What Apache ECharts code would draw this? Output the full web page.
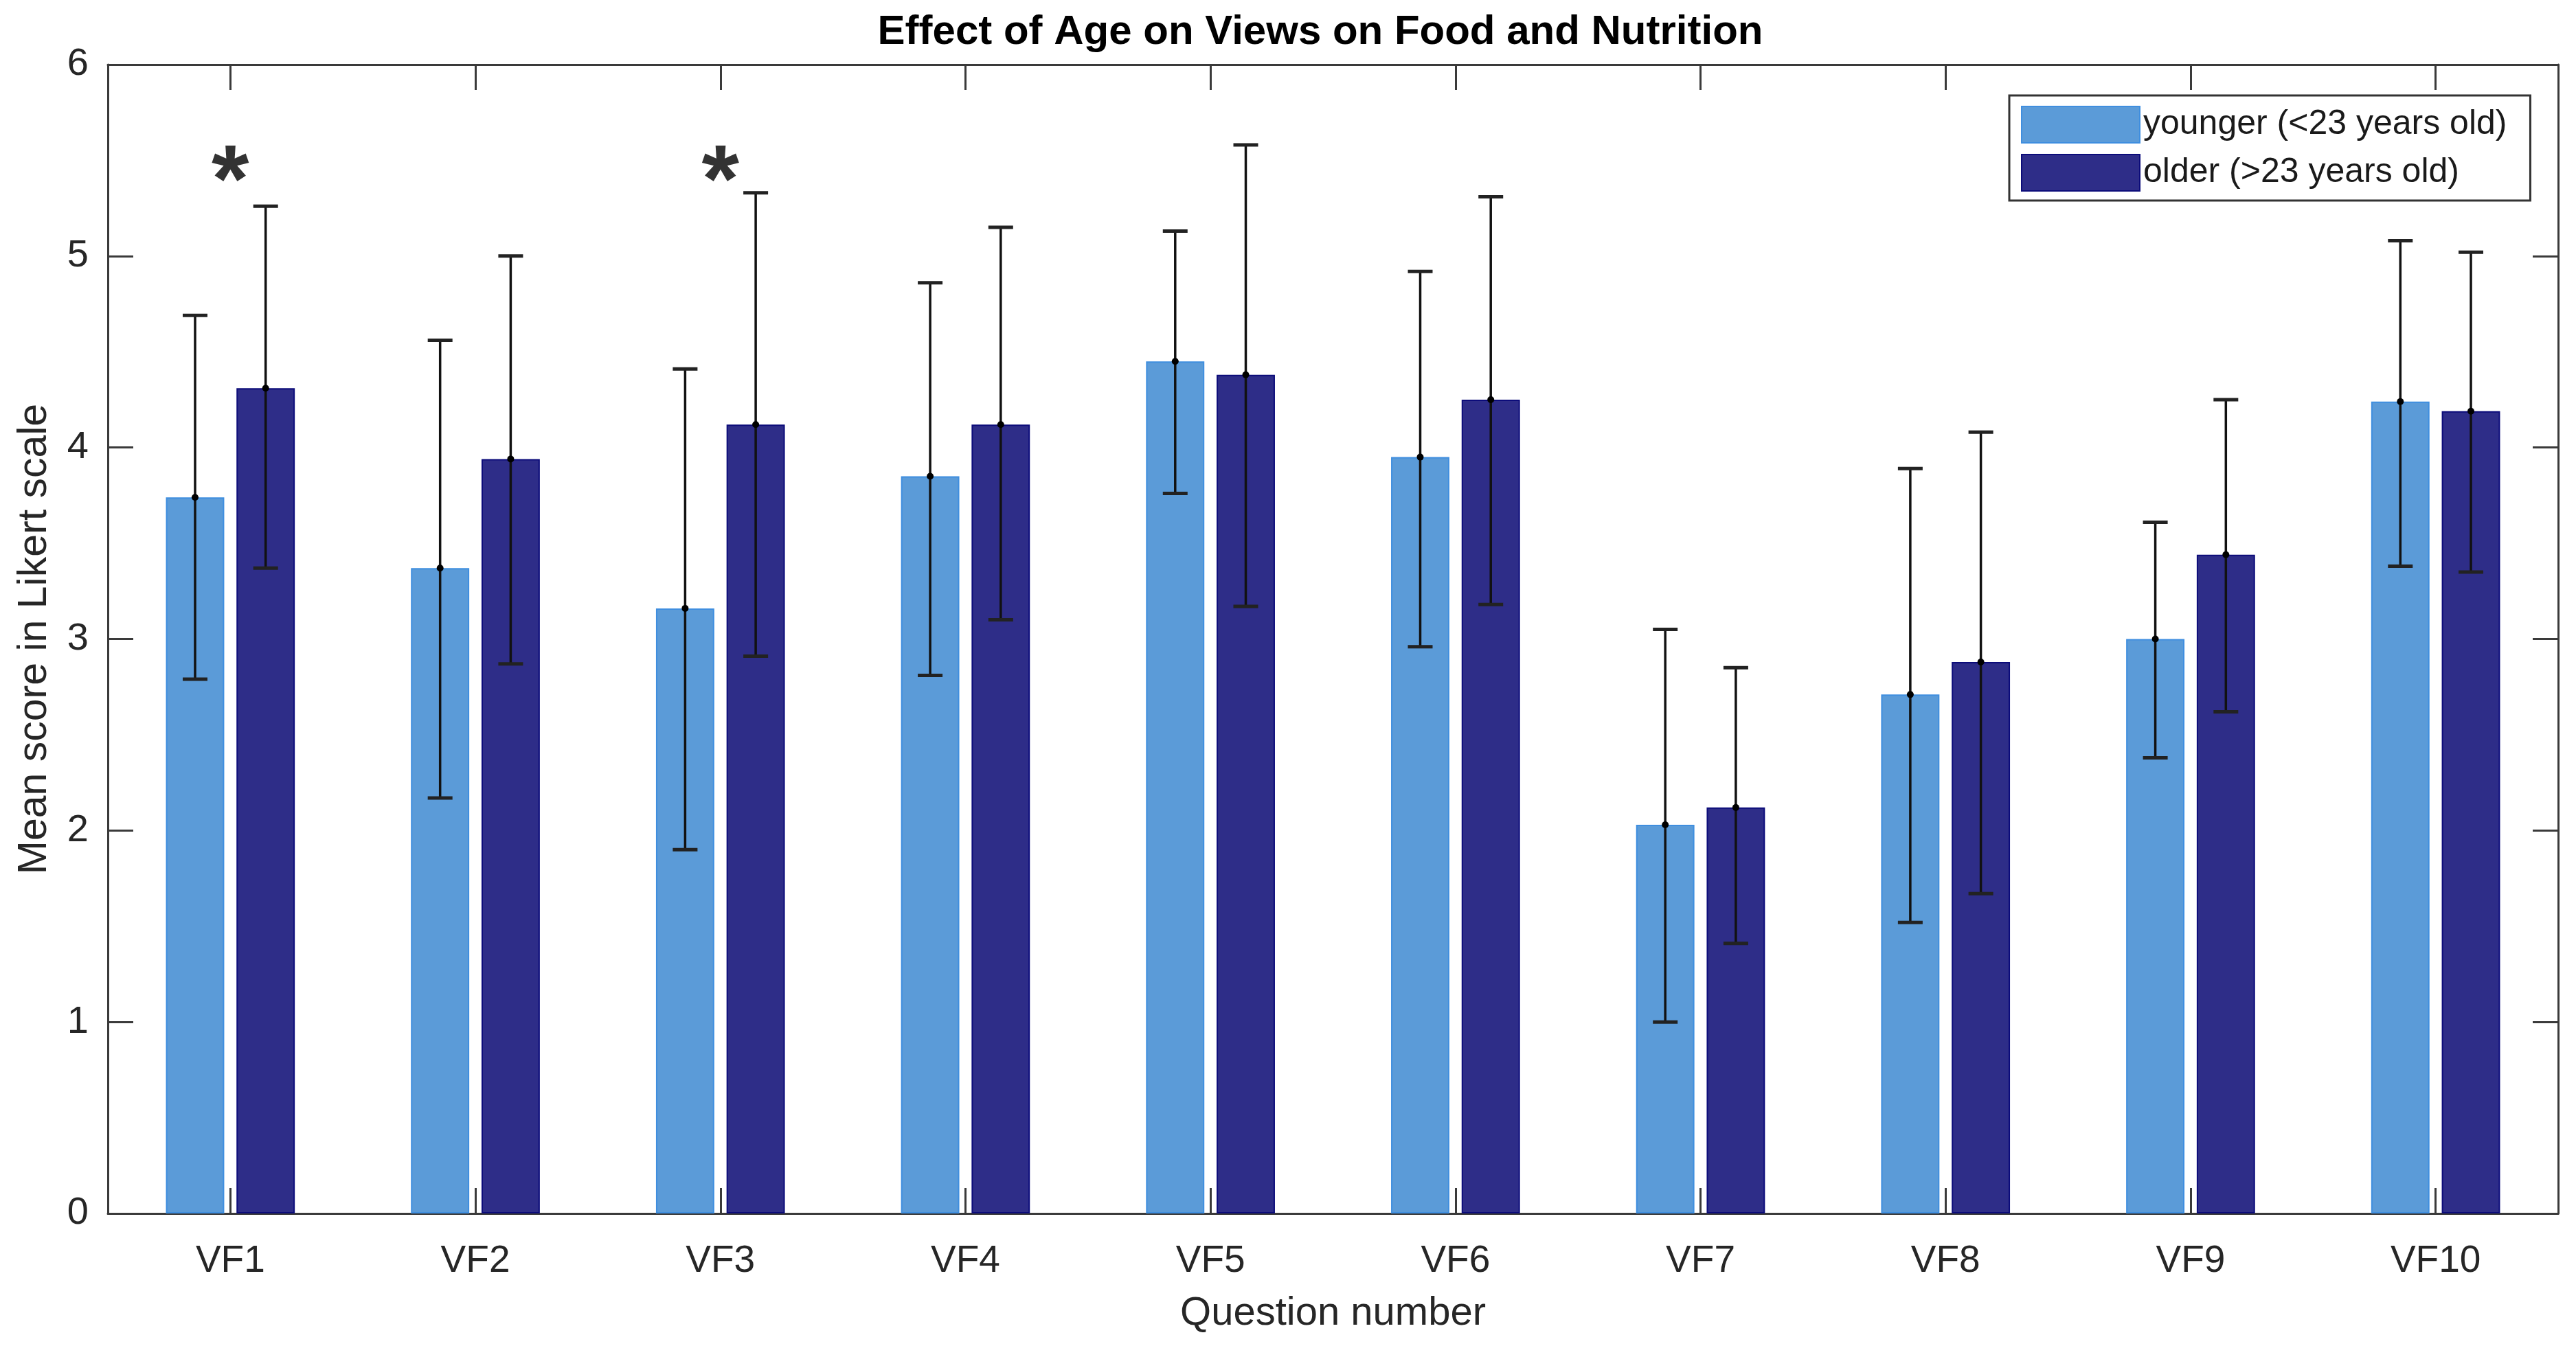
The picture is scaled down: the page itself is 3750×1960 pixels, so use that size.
<!DOCTYPE html>
<html>
<head>
<meta charset="utf-8">
<script src="https://cdn.jsdelivr.net/npm/echarts@6/dist/echarts.min.js"></script>
<style>
  html, body { margin: 0; padding: 0; background: #ffffff; }
  #chart { width: 3750px; height: 1960px; }
</style>
</head>
<body>
<div id="chart"></div>
<script>
// ---- data ----
const categories = ['VF1', 'VF2', 'VF3', 'VF4', 'VF5', 'VF6', 'VF7', 'VF8', 'VF9', 'VF10'];
const seriesNames = ['younger (<23 years old)', 'older (>23 years old)'];
const youngerMean = [3.74, 3.37, 3.16, 3.85, 4.45, 3.95, 2.03, 2.71, 3.00, 4.24];
const youngerLow  = [2.79, 2.17, 1.90, 2.81, 3.76, 2.96, 1.00, 1.52, 2.38, 3.38];
const youngerHigh = [4.69, 4.56, 4.41, 4.86, 5.13, 4.92, 3.05, 3.89, 3.61, 5.08];
const olderMean   = [4.31, 3.94, 4.12, 4.12, 4.38, 4.25, 2.12, 2.88, 3.44, 4.19];
const olderLow    = [3.37, 2.87, 2.91, 3.10, 3.17, 3.18, 1.41, 1.67, 2.62, 3.35];
const olderHigh   = [5.26, 5.00, 5.33, 5.15, 5.58, 5.31, 2.85, 4.08, 4.25, 5.02];
const significance = ['*', '', '*', '', '', '', '', '', '', ''];
const significanceY = [5.48, null, 5.48, null, null, null, null, null, null, null];
const yTicks = { min: 0, max: 6, interval: 1 };

// ---- styling ----
const FONT = "'Liberation Sans', Arial, Helvetica, sans-serif";
const AX = '#3a3a3a';
const TXT = '#262626';
const BAR_W = 0.238;   // fraction of category band
const BAR_GAP = 0.21;  // fraction of bar width

const chart = echarts.init(document.getElementById('chart'), null, { renderer: 'canvas' });

function errorSeries(name, mean, low, high, sign) {
  return {
    type: 'custom',
    name: name,
    xAxisIndex: 0,
    yAxisIndex: 0,
    z: 5,
    silent: true,
    renderItem: function (params, api) {
      const i = api.value(0);
      const band = api.size([1, 0])[0];
      const bw = band * BAR_W;
      const off = sign * (bw * (1 + BAR_GAP)) / 2;
      const pLo = api.coord([i, api.value(1)]);
      const pHi = api.coord([i, api.value(2)]);
      const pM = api.coord([i, api.value(3)]);
      const x = pM[0] + off;
      const cap = 18;
      const st = { stroke: '#111111', lineWidth: 3.5 };
      return {
        type: 'group',
        children: [
          { type: 'line', shape: { x1: x, y1: pLo[1], x2: x, y2: pHi[1] }, style: st },
          { type: 'line', shape: { x1: x - cap, y1: pHi[1], x2: x + cap, y2: pHi[1] }, style: { stroke: '#222222', lineWidth: 5 } },
          { type: 'line', shape: { x1: x - cap, y1: pLo[1], x2: x + cap, y2: pLo[1] }, style: { stroke: '#222222', lineWidth: 5 } },
          { type: 'circle', shape: { cx: x, cy: pM[1], r: 5 }, style: { fill: '#000000' } }
        ]
      };
    },
    data: categories.map((c, i) => [i, low[i], high[i], mean[i]]),
    encode: { x: 0, y: [1, 2] }
  };
}

const axisLineStyle = { color: AX, width: 3 };

const option = {
  animation: false,
  backgroundColor: '#ffffff',
  title: {
    text: 'Effect of Age on Views on Food and Nutrition',
    left: 1922,
    top: 17,
    padding: 0,
    textAlign: 'center',
    textStyle: { fontFamily: FONT, fontSize: 60, fontWeight: 'bold', color: '#000000' }
  },
  legend: {
    data: seriesNames,
    orient: 'vertical',
    left: 2925,
    top: 139,
    itemWidth: 172,
    itemHeight: 53,
    itemGap: 15,
    icon: 'rect',
    padding: [15, 34, 13, 17],
    borderColor: '#333333',
    borderWidth: 3,
    backgroundColor: '#ffffff',
    textStyle: { fontFamily: FONT, fontSize: 50, color: '#1a1a1a', lineHeight: 53 }
  },
  grid: { left: 157, right: 26, top: 94, bottom: 193, containLabel: false },
  xAxis: [
    {
      type: 'category',
      data: categories,
      position: 'bottom',
      boundaryGap: true,
      axisLine: { show: true, onZero: false, lineStyle: axisLineStyle },
      axisTick: { show: true, inside: true, length: 37, alignWithLabel: true, interval: 0, lineStyle: axisLineStyle },
      axisLabel: { fontFamily: FONT, fontSize: 55, color: TXT, margin: 42, interval: 0 },
      splitLine: { show: false },
      name: 'Question number',
      nameLocation: 'middle',
      nameGap: 117,
      nameTextStyle: { fontFamily: FONT, fontSize: 58, color: TXT }
    },
    {
      type: 'category',
      data: categories,
      position: 'top',
      boundaryGap: true,
      axisLine: { show: true, onZero: false, lineStyle: axisLineStyle },
      axisTick: { show: true, inside: true, length: 37, alignWithLabel: true, interval: 0, lineStyle: axisLineStyle },
      axisLabel: { show: false },
      splitLine: { show: false }
    }
  ],
  yAxis: [
    {
      type: 'value',
      min: yTicks.min,
      max: yTicks.max,
      interval: yTicks.interval,
      position: 'left',
      axisLine: { show: true, onZero: false, lineStyle: axisLineStyle },
      axisTick: { show: true, inside: true, length: 37, lineStyle: axisLineStyle },
      axisLabel: { fontFamily: FONT, fontSize: 56, color: TXT, margin: 28 },
      splitLine: { show: false },
      name: 'Mean score in Likert scale',
      nameLocation: 'middle',
      nameGap: 77,
      nameRotate: 90,
      nameTextStyle: { fontFamily: FONT, fontSize: 59, color: TXT }
    },
    {
      type: 'value',
      min: yTicks.min,
      max: yTicks.max,
      interval: yTicks.interval,
      position: 'right',
      axisLine: { show: true, onZero: false, lineStyle: axisLineStyle },
      axisTick: { show: true, inside: true, length: 37, lineStyle: axisLineStyle },
      axisLabel: { show: false },
      splitLine: { show: false }
    }
  ],
  series: [
    {
      name: seriesNames[0],
      type: 'bar',
      xAxisIndex: 0,
      yAxisIndex: 0,
      data: youngerMean,
      barWidth: (BAR_W * 100) + '%',
      barGap: (BAR_GAP * 100) + '%',
      itemStyle: { color: '#5B9BD8', borderColor: '#3F8EDF', borderWidth: 2 }
    },
    {
      name: seriesNames[1],
      type: 'bar',
      xAxisIndex: 0,
      yAxisIndex: 0,
      data: olderMean,
      barWidth: (BAR_W * 100) + '%',
      barGap: (BAR_GAP * 100) + '%',
      itemStyle: { color: '#2E2D88', borderColor: '#0C0C7A', borderWidth: 2 }
    },
    errorSeries('err-younger', youngerMean, youngerLow, youngerHigh, -1),
    errorSeries('err-older', olderMean, olderLow, olderHigh, 1),
    {
      name: 'significance',
      type: 'scatter',
      xAxisIndex: 1,
      yAxisIndex: 1,
      symbolSize: 0,
      silent: true,
      z: 6,
      data: categories.map((c, i) => significance[i] ? { value: [i, significanceY[i]], mark: significance[i] } : null).filter(d => d),
      label: {
        show: true,
        position: 'inside',
        offset: [0, 30],
        formatter: function (p) { return p.data.mark; },
        fontFamily: FONT,
        fontWeight: 'bold',
        fontSize: 140,
        color: '#000000'
      }
    }
  ]
};

chart.setOption(option);
</script>
</body>
</html>
